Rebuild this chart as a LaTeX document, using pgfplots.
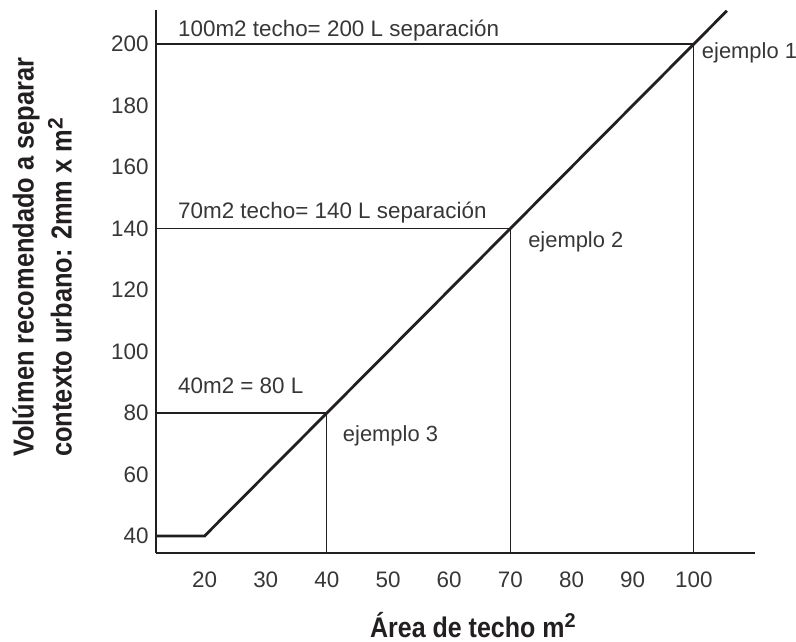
\documentclass[border=0pt]{standalone}
\usepackage{fontspec}
\setmainfont{Liberation Sans}
\newfontfamily\condfont[FakeStretch=0.88,BoldFont={Liberation Sans Bold}]{Liberation Sans}
\newfontfamily\supfont{Liberation Sans Bold}
\usepackage{pgfplots}
\pgfplotsset{compat=1.18}
\definecolor{ink}{RGB}{35,31,32}
\definecolor{lightink}{RGB}{55,55,55}

\begin{document}
\begin{tikzpicture}
\path[use as bounding box] (0,0) rectangle (796bp,642bp);
\begin{axis}[
  at={(156bp,89bp)}, anchor=south west,
  scale only axis, width=599bp, height=543bp,
  xmin=12.06, xmax=110, ymin=34.47, ymax=211.06,
  axis lines*=left,
  axis line style={line width=2.8bp, ink, -},
  xtick={20,30,...,100}, ytick={40,60,...,200},
  major tick length=0pt,
  /pgf/number format/assume math mode=true,
  ticklabel style={font=\fontsize{22.5}{25}\selectfont, text=lightink},
  xticklabel style={yshift=-15bp},
  yticklabel style={xshift=-4bp},
  clip=false,
  xlabel={Área de techo m\raisebox{10bp}{\supfont\fontsize{20}{20}\selectfont 2}},
  xlabel style={at={(axis description cs:0.529,-0.1547)}, anchor=base, text=ink, inner sep=0pt,
    font=\condfont\bfseries\fontsize{28.5}{32}\selectfont},
  ylabel={Volúmen recomendado a separar\\contexto urbano: 2mm x m\raisebox{9bp}{\supfont\fontsize{21}{21}\selectfont 2}},
  ylabel style={at={(axis description cs:-0.1402,0.1768)}, anchor=south west, align=left, text=ink, inner sep=0pt,
    font=\condfont\bfseries\fontsize{29}{38}\selectfont},
]
% reference lines (examples)
\addplot[ink, line width=1.1bp] coordinates {(12.06,200) (100,200) (100,34.47)};
\addplot[ink, line width=1.1bp] coordinates {(12.06,140) (70,140) (70,34.47)};
\addplot[ink, line width=1.1bp] coordinates {(12.06,80) (40,80) (40,34.47)};
% main relation
\addplot[ink, line width=2.8bp, line join=miter] coordinates {(12.06,40) (20,40) (105.4,210.8)};

\begin{scope}[every node/.style={font=\fontsize{22}{25}\selectfont, text=lightink, inner sep=0pt}]
\node[anchor=base west, font=\fontsize{22.5}{25}\selectfont] at (axis cs:15.65,202.3) {100m2 techo= 200 L separación};
\node[anchor=base west, font=\fontsize{22.5}{25}\selectfont] at (axis cs:15.65,143.4) {70m2 techo= 140 L separación};
\node[anchor=base west, font=\fontsize{22.5}{25}\selectfont] at (axis cs:15.65,86.2) {40m2 = 80 L};
\node[anchor=base west] at (axis cs:101.3,195.4) {ejemplo 1};
\node[anchor=base west] at (axis cs:72.9,133.7) {ejemplo 2};
\node[anchor=base west] at (axis cs:42.6,70.6) {ejemplo 3};
\end{scope}
\end{axis}
\end{tikzpicture}
\end{document}
